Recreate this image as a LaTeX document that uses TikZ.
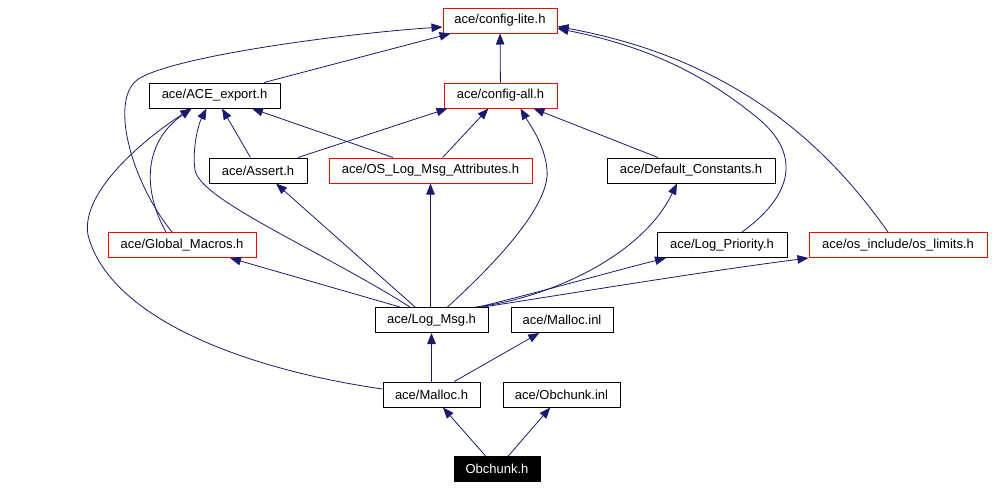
\documentclass[tikz,border=0pt]{standalone}
\usepackage{fontspec}
\setmainfont{Liberation Sans}
\usetikzlibrary{arrows.meta}
\definecolor{edgeblue}{HTML}{191970}
\definecolor{boxred}{HTML}{FF0000}
\tikzset{
  filebox/.style={draw=black, line width=1pt, minimum height=25pt, inner sep=0pt,
    font=\fontsize{13}{15}\selectfont, text=black, fill=white},
  redbox/.style={filebox, draw=boxred},
  mainbox/.style={filebox, fill=black, text=white},
  edge/.style={draw=edgeblue, line width=0.8pt, -{Triangle[length=11pt,width=8.5pt]}, fill=none}
}
\begin{document}
\begin{tikzpicture}[x=1pt,y=-1pt]
\useasboundingbox (0,0) rectangle (992,488);
% nodes
\node[redbox, minimum width=114pt] (cfglite) at (500,20.5) {ace/config-lite.h};
\node[filebox, minimum width=131pt] (acex) at (214.5,95.5) {ace/ACE\_export.h};
\node[redbox, minimum width=113pt] (cfgall) at (500.5,95.5) {ace/config-all.h};
\node[filebox, minimum width=98pt] (assert) at (258,170.5) {ace/Assert.h};
\node[redbox, minimum width=203pt] (oslma) at (430.5,170.5) {ace/OS\_Log\_Msg\_Attributes.h};
\node[filebox, minimum width=168pt] (defc) at (691,170.5) {ace/Default\_Constants.h};
\node[redbox, minimum width=148pt] (glob) at (182,245) {ace/Global\_Macros.h};
\node[filebox, minimum width=130pt] (logpri) at (722,245) {ace/Log\_Priority.h};
\node[redbox, minimum width=178pt] (oslim) at (898,245) {ace/os\_include/os\_limits.h};
\node[filebox, minimum width=113pt] (logmsg) at (431.5,320) {ace/Log\_Msg.h};
\node[filebox, minimum width=102pt] (mallocinl) at (562,320) {ace/Malloc.inl};
\node[filebox, minimum width=97pt] (malloc) at (431.5,394.5) {ace/Malloc.h};
\node[filebox, minimum width=117pt] (obinl) at (561.5,394.5) {ace/Obchunk.inl};
\node[mainbox, minimum width=86pt] (obchunk) at (497,469) {Obchunk.h};
% edges
\draw[edge] (cfgall) -- (cfglite);
\draw[edge] (acex) -- (cfglite);
\draw[edge] ([xshift=-10pt]glob.north) .. controls (130,180) and (108,96) .. (140,78)
  .. controls (180,55) and (350,33) .. ([yshift=-6.5pt]cfglite.west);
\draw[edge] ([xshift=-16pt]glob.north) .. controls (145,195) and (140,145) .. ([xshift=-23pt]acex.south);
\draw[edge] ([yshift=5.5pt]malloc.west) .. controls (250,370) and (110,320) .. (88,235)
  .. controls (80,190) and (150,135) .. ([xshift=-23pt]acex.south);
\draw[edge] (assert) -- (acex);
\draw[edge] ([xshift=40pt]assert.north) -- ([xshift=-53pt]cfgall.south);
\draw[edge] (oslma) -- (acex);
\draw[edge] (oslma) -- (cfgall);
\draw[edge] (defc) -- (cfgall);
\draw[edge] ([xshift=20pt]logpri.north) .. controls (800,190) and (795,150) .. (760,120)
  .. controls (700,70) and (640,45) .. ([yshift=-8pt]cfglite.east);
\draw[edge] ([xshift=-10pt]oslim.north) .. controls (830,150) and (740,60) .. ([yshift=-6pt]cfglite.east);
\draw[edge] ([xshift=-21.5pt]logmsg.north) .. controls (320,250) and (200,200) .. (195,170)
  .. controls (192,150) and (198,125) .. ([xshift=-8pt]acex.south);
\draw[edge] ([xshift=-16.5pt]logmsg.north) -- ([xshift=18pt]assert.south);
\draw[edge] ([xshift=-31.5pt]logmsg.north) -- ([xshift=48pt]glob.south);
\draw[edge] ([xshift=-1pt]logmsg.north) -- (oslma.south);
\draw[edge] ([xshift=16pt]logmsg.north) .. controls (510,250) and (550,200) .. (547,170)
  .. controls (545,145) and (530,125) .. ([xshift=20pt]cfgall.south);
\draw[edge] ([xshift=44pt]logmsg.north) .. controls (540,300) and (640,260) .. ([xshift=-14pt]defc.south);
\draw[edge] ([xshift=47pt]logmsg.north) .. controls (540,292) and (610,272) .. ([xshift=-56pt]logpri.south);
\draw[edge] ([xshift=51.5pt]logmsg.north) .. controls (580,292) and (700,272) .. (oslim.south west);
\draw[edge] (malloc) -- (logmsg);
\draw[edge] (malloc) -- (mallocinl);
\draw[edge] (obchunk) -- (malloc);
\draw[edge] (obchunk) -- (obinl);
\end{tikzpicture}
\end{document}
